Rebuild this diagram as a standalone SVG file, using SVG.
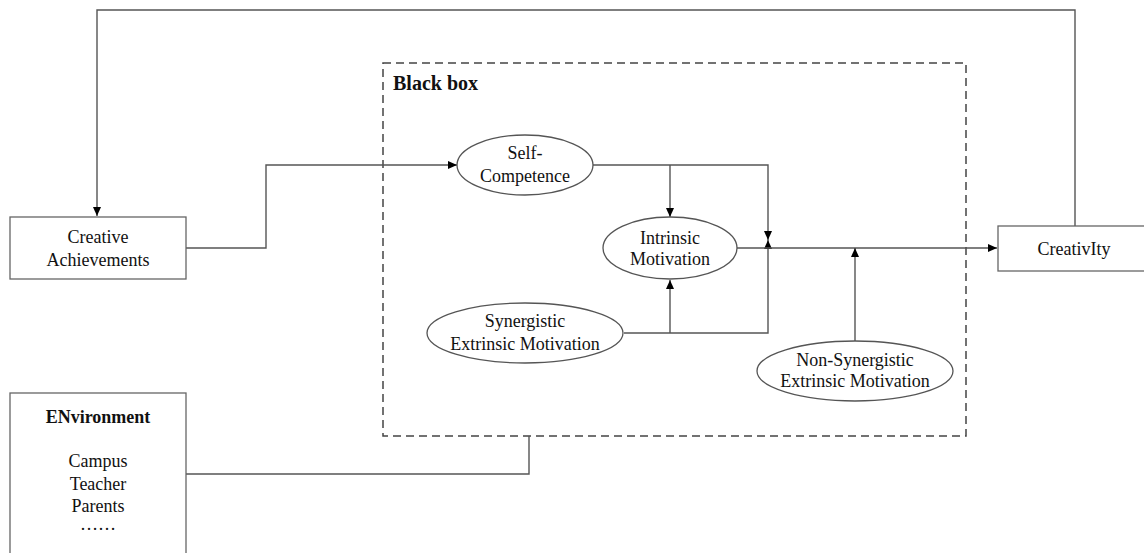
<svg xmlns="http://www.w3.org/2000/svg" width="1144" height="553" viewBox="0 0 1144 553">
<defs>
<marker id="arr" markerUnits="userSpaceOnUse" markerWidth="10" markerHeight="9" refX="9" refY="4" orient="auto">
<path d="M0,0 L9,4 L0,8 z" fill="#000"/>
</marker>
<style>
text{font-family:"Liberation Serif","Times New Roman",serif;font-size:18px;fill:#111;text-anchor:middle}
.b{font-weight:bold}
.box{fill:#fff;stroke:#666;stroke-width:1.3}
.ell{fill:#fff;stroke:#555;stroke-width:1.3}
.c{fill:none;stroke:#555;stroke-width:1.4}
.dash{fill:none;stroke:#444;stroke-width:1.5;stroke-dasharray:8 5}
</style>
</defs>
<rect width="1144" height="553" fill="#fff"/>
<g id="blackbox">
<rect class="dash" x="383" y="63" width="583" height="373"/>
<text class="b" x="393" y="90" style="text-anchor:start;font-size:20px">Black box</text>
</g>
<g id="connectors">
<path class="c" d="M1075,226 V10 H97 V216" marker-end="url(#arr)"/>
<path class="c" d="M186,248 H266 V165 H457" marker-end="url(#arr)"/>
<path class="c" d="M593,165 H768 V240" marker-end="url(#arr)"/>
<path class="c" d="M670,165 V217" marker-end="url(#arr)"/>
<path class="c" d="M624,333 H768 V240" marker-end="url(#arr)"/>
<path class="c" d="M670,333 V280" marker-end="url(#arr)"/>
<path class="c" d="M737,248 H997" marker-end="url(#arr)"/>
<path class="c" d="M855,341 V248" marker-end="url(#arr)"/>
<path class="c" d="M186,474 H529 V436"/>
</g>
<g id="creative-achievements">
<rect class="box" x="10" y="217" width="176" height="62"/>
<text x="98" y="243">Creative</text>
<text x="98" y="266">Achievements</text>
</g>
<g id="environment">
<rect class="box" x="10" y="393" width="176" height="170"/>
<text class="b" x="98" y="423">ENvironment</text>
<text x="98" y="467">Campus</text>
<text x="98" y="490">Teacher</text>
<text x="98" y="512">Parents</text>
<text x="98" y="530">……</text>
</g>
<g id="self-competence">
<ellipse class="ell" cx="525" cy="165" rx="68" ry="30"/>
<text x="525" y="159">Self-</text>
<text x="525" y="182">Competence</text>
</g>
<g id="intrinsic-motivation">
<ellipse class="ell" cx="670" cy="248" rx="67" ry="31"/>
<text x="670" y="244">Intrinsic</text>
<text x="670" y="265">Motivation</text>
</g>
<g id="synergistic">
<ellipse class="ell" cx="525" cy="333" rx="98" ry="30"/>
<text x="525" y="327">Synergistic</text>
<text x="525" y="350">Extrinsic Motivation</text>
</g>
<g id="non-synergistic">
<ellipse class="ell" cx="855" cy="371" rx="98" ry="30"/>
<text x="855" y="366">Non-Synergistic</text>
<text x="855" y="387">Extrinsic Motivation</text>
</g>
<g id="creativity">
<rect class="box" x="998" y="226" width="150" height="45"/>
<text x="1074" y="255">CreativIty</text>
</g>
</svg>
